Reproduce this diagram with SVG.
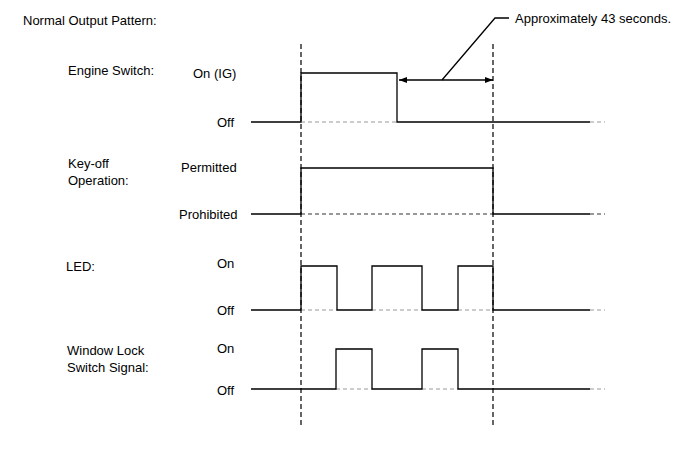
<svg xmlns="http://www.w3.org/2000/svg" width="691" height="467" viewBox="0 0 691 467">
<style>
text{font-family:"Liberation Sans",Arial,sans-serif;font-size:13px;fill:#000}
.w{fill:none;stroke:#000;stroke-width:1.3}
.g{fill:none;stroke:#999;stroke-width:1.2;stroke-dasharray:4 3}
.d{fill:none;stroke:#333;stroke-width:1.1;stroke-dasharray:4 3}
.v{fill:none;stroke:#000;stroke-width:1.2;stroke-dasharray:5 3}
</style>
<defs>
<marker id="ah" viewBox="0 0 8 6" refX="8" refY="3" markerWidth="8" markerHeight="6" orient="auto-start-reverse" markerUnits="userSpaceOnUse">
<path d="M0,0 L8,3 L0,6 Z" fill="#000"/>
</marker>
</defs>
<rect width="691" height="467" fill="#fff"/>
<text x="23" y="25">Normal Output Pattern:</text>

<g id="connectors">
<line class="v" x1="301" y1="44" x2="301" y2="426"/>
<line class="v" x1="493" y1="44" x2="493" y2="426"/>
<line class="w" x1="399" y1="80" x2="493" y2="80" marker-start="url(#ah)" marker-end="url(#ah)" stroke-width="1.1"/>
<polyline class="w" points="442,80 495,18 509,18" stroke-width="1"/>
</g>
<g id="duration-label">
<text x="515" y="23">Approximately 43 seconds.</text>
</g>

<g id="engine-switch">
<text x="68" y="75">Engine Switch:</text>
<text x="193" y="78">On (IG)</text>
<text x="217" y="127">Off</text>
<line class="g" x1="301" y1="122" x2="397" y2="122"/>
<line class="g" x1="590" y1="122" x2="605" y2="122"/>
<polyline class="w" points="251,122 301,122 301,73 397,73 397,122 590,122"/>
</g>

<g id="key-off-operation">
<text x="68" y="168">Key-off</text>
<text x="68" y="185">Operation:</text>
<text x="181" y="172">Permitted</text>
<text x="179" y="219">Prohibited</text>
<line class="d" x1="301" y1="214" x2="493" y2="214"/>
<line class="d" x1="590" y1="214" x2="605" y2="214"/>
<polyline class="w" points="251,214 301,214 301,168 493,168 493,214 590,214"/>
</g>

<g id="led">
<text x="66" y="271">LED:</text>
<text x="217" y="268">On</text>
<text x="217" y="315">Off</text>
<line class="g" x1="301" y1="310" x2="337" y2="310"/>
<line class="g" x1="372" y1="310" x2="422" y2="310"/>
<line class="g" x1="458" y1="310" x2="493" y2="310"/>
<line class="g" x1="590" y1="310" x2="605" y2="310"/>
<polyline class="w" points="251,310 301,310 301,266 337,266 337,310 372,310 372,266 422,266 422,310 458,310 458,266 493,266 493,310 590,310"/>
</g>

<g id="window-lock-switch-signal">
<text x="67" y="355">Window Lock</text>
<text x="67" y="372">Switch Signal:</text>
<text x="217" y="353">On</text>
<text x="217" y="395">Off</text>
<line class="g" x1="336" y1="389" x2="372" y2="389"/>
<line class="g" x1="422" y1="389" x2="458" y2="389"/>
<line class="g" x1="590" y1="389" x2="605" y2="389"/>
<polyline class="w" points="251,389 336,389 336,349 372,349 372,389 422,389 422,349 458,349 458,389 590,389"/>
</g>
</svg>
